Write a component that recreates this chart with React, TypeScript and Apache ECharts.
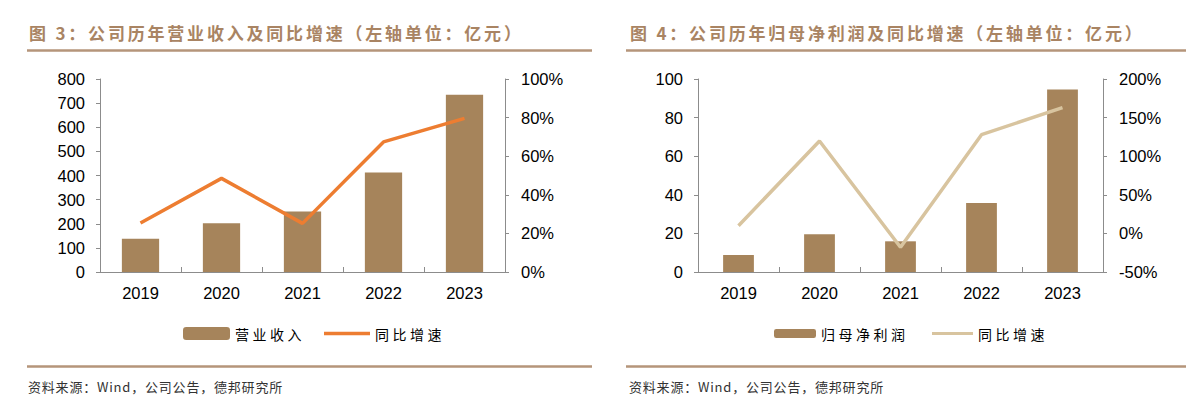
import React, { useEffect, useRef } from "react";
import * as echarts from "echarts";

const years = ["2019", "2020", "2021", "2022", "2023"];
const revenue = [138, 202, 251, 412, 735];
const revenueGrowth = [25.4, 48.5, 25.2, 67.4, 79.6];
const profit = [8.8, 19.5, 15.9, 35.8, 94.6];
const profitGrowth = [10, 119.7, -18, 127.9, 162.9];

const title1 = "图 3：公司历年营业收入及同比增速（左轴单位：亿元）";
const title2 = "图 4：公司历年归母净利润及同比增速（左轴单位：亿元）";
const sourceText = "资料来源：Wind，公司公告，德邦研究所";
const barName1 = "营业收入";
const barName2 = "归母净利润";
const lineName = "同比增速";

const BAR = "#A6845B";
const ORANGE = "#ED7D31";
const BEIGE = "#D8C49F";
const TITLE = "#A98463";
const RULE = "#B5957A";
const AXIS = "#8C8C8C";
const NUMFONT = "'Liberation Sans', Arial, sans-serif";

function buildOption(cfg: {
  title: string;
  titleX: number;
  ruleX1: number;
  ruleX2: number;
  gridLeft: number;
  barName: string;
  barData: number[];
  barWidth: string;
  leftMin: number;
  leftMax: number;
  leftInterval: number;
  lineData: number[];
  lineColor: string;
  rightMin: number;
  rightMax: number;
  rightInterval: number;
  legendBarX: number;
  legendBarW: number;
  legendBarH: number;
  legendLineX: number;
  legendLineW: number;
  legendLineH: number;
}) {
  const labelStyle = { color: "#000", fontSize: 16.5, fontFamily: NUMFONT };
  return {
    animation: false,
    graphic: [
      {
        type: "text",
        x: cfg.titleX,
        y: 32,
        style: {
          text: cfg.title,
          fill: TITLE,
          fontSize: 17,
          fontWeight: "bold",
          fontFamily: "zTtl, 'Noto Sans CJK SC', sans-serif",
          verticalAlign: "middle",
        },
      },
      {
        type: "line",
        shape: { x1: cfg.ruleX1, y1: 50.5, x2: cfg.ruleX2, y2: 50.5 },
        style: { stroke: RULE, lineWidth: 2.5 },
      },
      {
        type: "line",
        shape: { x1: cfg.ruleX1, y1: 366.5, x2: cfg.ruleX2, y2: 366.5 },
        style: { stroke: RULE, lineWidth: 2.5 },
      },
      {
        type: "text",
        x: cfg.titleX - 1,
        y: 386,
        style: {
          text: sourceText,
          fill: "#333",
          fontSize: 13,
          fontFamily: "zSrc, 'Noto Sans CJK SC', sans-serif",
          verticalAlign: "middle",
        },
      },
    ],
    legend: [
      {
        left: cfg.legendBarX,
        top: 333.5 - 8,
        padding: 0,
        itemWidth: cfg.legendBarW,
        itemHeight: cfg.legendBarH,
        itemGap: 0,
        selectedMode: false,
        textStyle: { fontSize: 14, color: "#000", fontFamily: "zLgd, 'Noto Sans CJK SC', sans-serif", lineHeight: 16 },
        data: [{ name: cfg.barName, icon: "roundRect" }],
      },
      {
        left: cfg.legendLineX,
        top: 333.5 - 8,
        padding: 0,
        itemWidth: cfg.legendLineW,
        itemHeight: cfg.legendLineH,
        itemGap: 0,
        selectedMode: false,
        textStyle: { fontSize: 14, color: "#000", fontFamily: "zLgd, 'Noto Sans CJK SC', sans-serif", lineHeight: 16 },
        data: [{ name: lineName, icon: "rect" }],
      },
    ],
    grid: { left: cfg.gridLeft, width: 405, top: 79, height: 193, containLabel: false },
    xAxis: {
      type: "category",
      data: years,
      axisLine: { lineStyle: { color: AXIS, width: 1 } },
      axisTick: { show: true, inside: true, length: 5, lineStyle: { color: AXIS } },
      axisLabel: { ...labelStyle, margin: 12 },
    },
    yAxis: [
      {
        type: "value",
        min: cfg.leftMin,
        max: cfg.leftMax,
        interval: cfg.leftInterval,
        splitLine: { show: false },
        axisLine: { show: true, lineStyle: { color: AXIS } },
        axisTick: { show: true, length: 4, lineStyle: { color: AXIS } },
        axisLabel: { ...labelStyle, margin: 15 },
      },
      {
        type: "value",
        position: "right",
        min: cfg.rightMin,
        max: cfg.rightMax,
        interval: cfg.rightInterval,
        splitLine: { show: false },
        axisLine: { show: true, lineStyle: { color: AXIS } },
        axisTick: { show: true, length: 4, lineStyle: { color: AXIS } },
        axisLabel: { ...labelStyle, margin: 16, formatter: (v: number) => `${v}%` },
      },
    ],
    series: [
      {
        name: cfg.barName,
        type: "bar",
        data: cfg.barData,
        barWidth: cfg.barWidth,
        itemStyle: { color: BAR },
        yAxisIndex: 0,
      },
      {
        name: lineName,
        type: "line",
        data: cfg.lineData,
        yAxisIndex: 1,
        symbol: "none",
        lineStyle: { color: cfg.lineColor, width: 3.5 },
        itemStyle: { color: cfg.lineColor },
      },
    ],
  };
}

function Chart({ option, left, width }: { option: any; left: number; width: number }) {
  const ref = useRef<HTMLDivElement>(null);
  useEffect(() => {
    if (!ref.current) return;
    const chart = echarts.init(ref.current, undefined, { renderer: "svg" });
    chart.setOption(option);
    return () => chart.dispose();
  }, []);
  return (
    <div
      ref={ref}
      style={{ position: "absolute", left, top: 0, width, height: 414 }}
    />
  );
}

export default function App() {
  const opt1 = buildOption({
    title: title1,
    titleX: 29,
    ruleX1: 27,
    ruleX2: 592,
    gridLeft: 100,
    barName: barName1,
    barData: revenue,
    barWidth: "46%",
    leftMin: 0,
    leftMax: 800,
    leftInterval: 100,
    lineData: revenueGrowth,
    lineColor: ORANGE,
    rightMin: 0,
    rightMax: 100,
    rightInterval: 20,
    legendBarX: 183,
    legendBarW: 47,
    legendBarH: 13,
    legendLineX: 324,
    legendLineW: 46,
    legendLineH: 3.5,
  });
  const opt2 = buildOption({
    title: title2,
    titleX: 36,
    ruleX1: 32,
    ruleX2: 592,
    gridLeft: 104,
    barName: barName2,
    barData: profit,
    barWidth: "38%",
    leftMin: 0,
    leftMax: 100,
    leftInterval: 20,
    lineData: profitGrowth,
    lineColor: BEIGE,
    rightMin: -50,
    rightMax: 200,
    rightInterval: 50,
    legendBarX: 180,
    legendBarW: 42,
    legendBarH: 9,
    legendLineX: 338,
    legendLineW: 41,
    legendLineH: 3,
  });
  return (
    <div style={{ position: "absolute", left: 0, top: 0, width: 1189, height: 414, background: "#fff" }}>
      <style>{`
        text[style*="zTtl"] { letter-spacing: 2.8px; }
        text[style*="zSrc"] { letter-spacing: 0.8px; }
        text[style*="zLgd"] { letter-spacing: 3.5px; }
      `}</style>
      <Chart option={opt1} left={0} width={594} />
      <Chart option={opt2} left={594} width={595} />
    </div>
  );
}
